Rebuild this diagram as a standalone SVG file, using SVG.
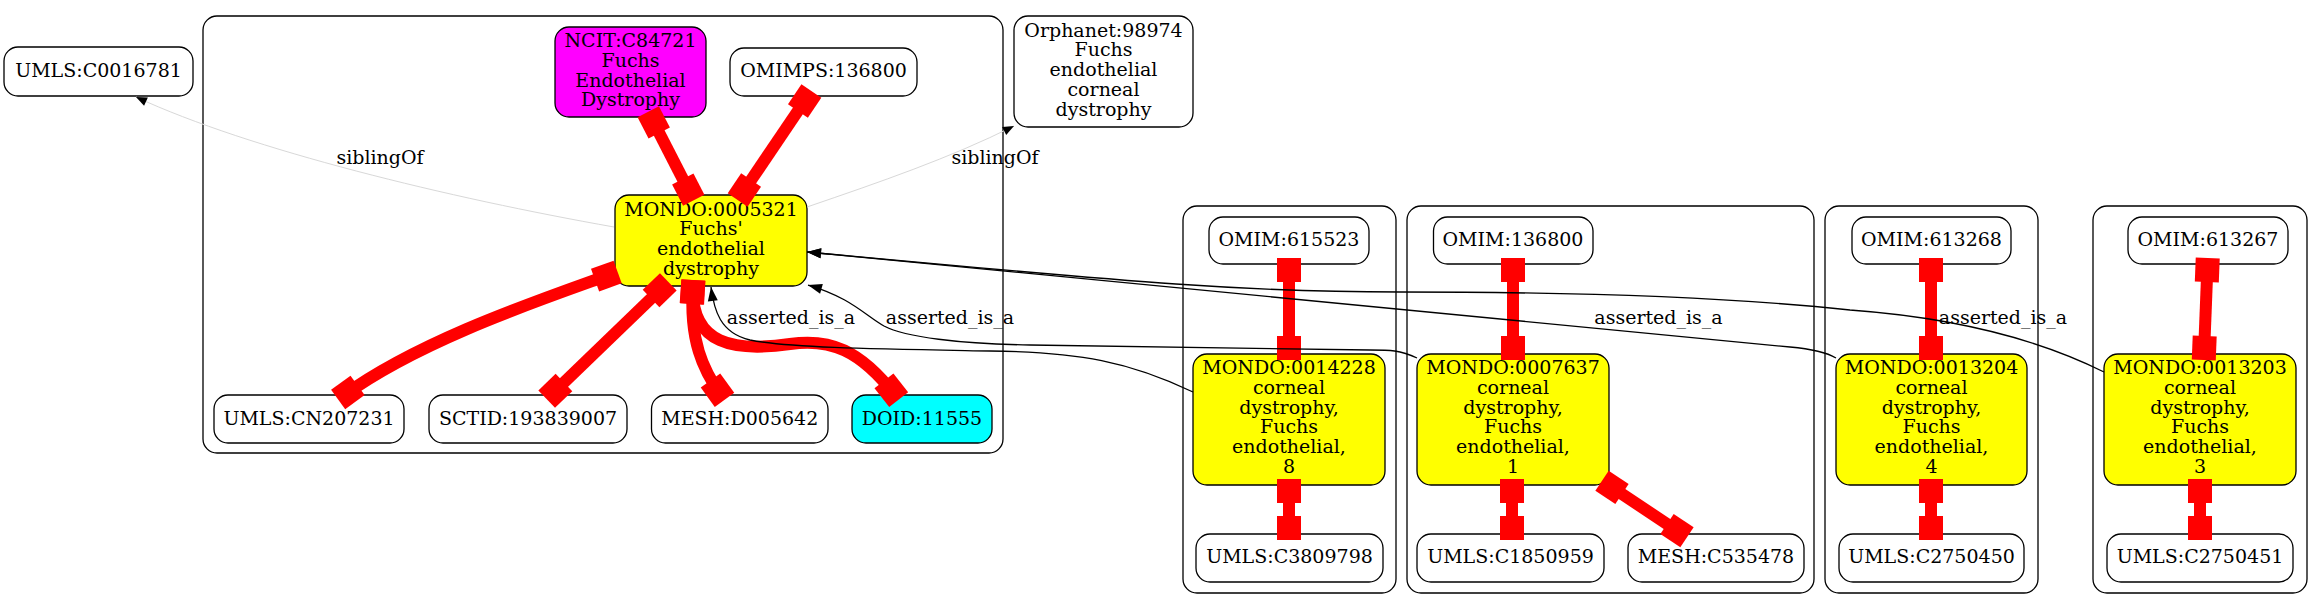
<svg xmlns="http://www.w3.org/2000/svg" width="2324" height="609" viewBox="0 0 2324 609">
<style>
.cl{fill:none;stroke:#000;stroke-width:1.3}
.n{fill:#fff;stroke:#000;stroke-width:1.3}
.y{fill:#ff0}
.m{fill:#f0f}
.c{fill:#0ff}
.t{font-family:"DejaVu Serif","Liberation Serif",serif;font-size:19px;text-anchor:middle;fill:#000}
.red{fill:none;stroke:#f00;stroke-width:12}
.isa{fill:none;stroke:#000;stroke-width:1.3}
.sib{fill:none;stroke:#d8d8d8;stroke-width:1}
</style>
<defs>
<marker id="tee" markerUnits="userSpaceOnUse" viewBox="-20 -14 28 28" markerWidth="28" markerHeight="28" refX="0" refY="0" orient="auto-start-reverse"><rect x="-18" y="-12" width="24" height="24" fill="#f00"/></marker>
<marker id="arr" markerUnits="userSpaceOnUse" viewBox="-16 -7 18 14" markerWidth="18" markerHeight="14" refX="0" refY="0" orient="auto"><path d="M0,0 L-14,-5 L-14,5 Z" fill="#000"/></marker>
<marker id="arrs" markerUnits="userSpaceOnUse" viewBox="-13 -6 15 12" markerWidth="15" markerHeight="12" refX="0" refY="0" orient="auto"><path d="M0,0 L-11,-4.5 L-11,4.5 Z" fill="#000"/></marker>
</defs>
<rect width="2324" height="609" fill="#fff"/>
<g id="clusters">
<rect class="cl" x="203" y="16" width="800" height="437" rx="14"/>
<rect class="cl" x="1183" y="206" width="213" height="387" rx="14"/>
<rect class="cl" x="1407" y="206" width="407" height="387" rx="14"/>
<rect class="cl" x="1825" y="206" width="213" height="387" rx="14"/>
<rect class="cl" x="2093" y="206" width="214" height="387" rx="14"/>
</g>
<g id="node-UMLS-C0016781"><rect class="n" x="4" y="47" width="189" height="49" rx="14"/><text class="t" x="98.5" y="77">UMLS:C0016781</text></g>
<g id="node-NCIT-C84721"><rect class="n m" x="555" y="27" width="151" height="90" rx="14"/><text class="t" x="630.5" y="47"><tspan x="630.5">NCIT:C84721</tspan><tspan x="630.5" dy="19.8">Fuchs</tspan><tspan x="630.5" dy="19.8">Endothelial</tspan><tspan x="630.5" dy="19.8">Dystrophy</tspan></text></g>
<g id="node-OMIMPS-136800"><rect class="n" x="730" y="48" width="187" height="48" rx="14"/><text class="t" x="823.5" y="77">OMIMPS:136800</text></g>
<g id="node-Orphanet-98974"><rect class="n" x="1014" y="16" width="179" height="111" rx="14"/><text class="t" x="1103.5" y="36.5"><tspan x="1103.5">Orphanet:98974</tspan><tspan x="1103.5" dy="19.8">Fuchs</tspan><tspan x="1103.5" dy="19.8">endothelial</tspan><tspan x="1103.5" dy="19.8">corneal</tspan><tspan x="1103.5" dy="19.8">dystrophy</tspan></text></g>
<g id="node-MONDO-0005321"><rect class="n y" x="615" y="195" width="192" height="91" rx="14"/><text class="t" x="711" y="215.5"><tspan x="711">MONDO:0005321</tspan><tspan x="711" dy="19.8">Fuchs'</tspan><tspan x="711" dy="19.8">endothelial</tspan><tspan x="711" dy="19.8">dystrophy</tspan></text></g>
<g id="node-UMLS-CN207231"><rect class="n" x="214" y="395" width="190" height="48" rx="14"/><text class="t" x="309" y="425">UMLS:CN207231</text></g>
<g id="node-SCTID-193839007"><rect class="n" x="429" y="395" width="198" height="48" rx="14"/><text class="t" x="528" y="425">SCTID:193839007</text></g>
<g id="node-MESH-D005642"><rect class="n" x="651.5" y="395" width="176.5" height="48" rx="14"/><text class="t" x="739.75" y="425">MESH:D005642</text></g>
<g id="node-DOID-11555"><rect class="n c" x="852" y="395" width="140" height="48" rx="14"/><text class="t" x="922" y="425">DOID:11555</text></g>
<g id="node-OMIM-615523"><rect class="n" x="1209" y="217" width="160" height="47" rx="14"/><text class="t" x="1289" y="246">OMIM:615523</text></g>
<g id="node-MONDO-0014228"><rect class="n y" x="1193" y="354" width="192" height="131" rx="14"/><text class="t" x="1289" y="374"><tspan x="1289">MONDO:0014228</tspan><tspan x="1289" dy="19.8">corneal</tspan><tspan x="1289" dy="19.8">dystrophy,</tspan><tspan x="1289" dy="19.8">Fuchs</tspan><tspan x="1289" dy="19.8">endothelial,</tspan><tspan x="1289" dy="19.8">8</tspan></text></g>
<g id="node-UMLS-C3809798"><rect class="n" x="1196" y="534" width="187" height="48" rx="14"/><text class="t" x="1289.5" y="563">UMLS:C3809798</text></g>
<g id="node-OMIM-136800"><rect class="n" x="1433.5" y="217" width="159.5" height="47" rx="14"/><text class="t" x="1513" y="246">OMIM:136800</text></g>
<g id="node-MONDO-0007637"><rect class="n y" x="1417" y="354" width="192" height="131" rx="14"/><text class="t" x="1513" y="374"><tspan x="1513">MONDO:0007637</tspan><tspan x="1513" dy="19.8">corneal</tspan><tspan x="1513" dy="19.8">dystrophy,</tspan><tspan x="1513" dy="19.8">Fuchs</tspan><tspan x="1513" dy="19.8">endothelial,</tspan><tspan x="1513" dy="19.8">1</tspan></text></g>
<g id="node-UMLS-C1850959"><rect class="n" x="1417" y="534" width="187" height="48" rx="14"/><text class="t" x="1510.5" y="563">UMLS:C1850959</text></g>
<g id="node-MESH-C535478"><rect class="n" x="1628" y="534" width="176" height="48" rx="14"/><text class="t" x="1716" y="563">MESH:C535478</text></g>
<g id="node-OMIM-613268"><rect class="n" x="1852" y="217" width="159" height="47" rx="14"/><text class="t" x="1931.5" y="246">OMIM:613268</text></g>
<g id="node-MONDO-0013204"><rect class="n y" x="1836" y="354" width="191" height="131" rx="14"/><text class="t" x="1931.5" y="374"><tspan x="1931.5">MONDO:0013204</tspan><tspan x="1931.5" dy="19.8">corneal</tspan><tspan x="1931.5" dy="19.8">dystrophy,</tspan><tspan x="1931.5" dy="19.8">Fuchs</tspan><tspan x="1931.5" dy="19.8">endothelial,</tspan><tspan x="1931.5" dy="19.8">4</tspan></text></g>
<g id="node-UMLS-C2750450"><rect class="n" x="1839" y="534" width="185" height="48" rx="14"/><text class="t" x="1931.5" y="563">UMLS:C2750450</text></g>
<g id="node-OMIM-613267"><rect class="n" x="2128" y="217" width="160" height="47" rx="14"/><text class="t" x="2208" y="246">OMIM:613267</text></g>
<g id="node-MONDO-0013203"><rect class="n y" x="2104" y="354" width="192" height="131" rx="14"/><text class="t" x="2200" y="374"><tspan x="2200">MONDO:0013203</tspan><tspan x="2200" dy="19.8">corneal</tspan><tspan x="2200" dy="19.8">dystrophy,</tspan><tspan x="2200" dy="19.8">Fuchs</tspan><tspan x="2200" dy="19.8">endothelial,</tspan><tspan x="2200" dy="19.8">3</tspan></text></g>
<g id="node-UMLS-C2750451"><rect class="n" x="2107" y="534" width="186" height="48" rx="14"/><text class="t" x="2200" y="563">UMLS:C2750451</text></g>
<g id="connectors">
<path class="sib" d="M614,227 C450,198 250,150 136,97" marker-end="url(#arrs)"/>
<path class="sib" d="M807,207 C880,182 950,158 1014,126" marker-end="url(#arrs)"/>
<path class="red" d="M651,117 L691,195" marker-start="url(#tee)" marker-end="url(#tee)"/>
<path class="red" d="M808,96 L741,195" marker-start="url(#tee)" marker-end="url(#tee)"/>
<path class="red" d="M612,274 C540,300 420,340 343,396" marker-start="url(#tee)" marker-end="url(#tee)"/>
<path class="red" d="M664,286 L551,395" marker-start="url(#tee)" marker-end="url(#tee)"/>
<path class="red" d="M693,286 C689,340 703,370 721,395" marker-start="url(#tee)" marker-end="url(#tee)"/>
<path class="red" d="M693,286 C690,345 735,352 790,344 C830,338 860,350 895,395" marker-start="url(#tee)" marker-end="url(#tee)"/>
<path class="red" d="M1289,264 L1289,354" marker-start="url(#tee)" marker-end="url(#tee)"/>
<path class="red" d="M1289,485 L1289,534" marker-start="url(#tee)" marker-end="url(#tee)"/>
<path class="red" d="M1513,264 L1513,354" marker-start="url(#tee)" marker-end="url(#tee)"/>
<path class="red" d="M1512,485 L1512,534" marker-start="url(#tee)" marker-end="url(#tee)"/>
<path class="red" d="M1607,484 L1682,534" marker-start="url(#tee)" marker-end="url(#tee)"/>
<path class="red" d="M1931,264 L1931,354" marker-start="url(#tee)" marker-end="url(#tee)"/>
<path class="red" d="M1931,485 L1931,534" marker-start="url(#tee)" marker-end="url(#tee)"/>
<path class="red" d="M2207.5,264 L2204,354" marker-start="url(#tee)" marker-end="url(#tee)"/>
<path class="red" d="M2200,485 L2200,534" marker-start="url(#tee)" marker-end="url(#tee)"/>
<path class="isa" d="M1193,392 C1130,362 1080,352 990,351 C880,349 790,348 750,340 C720,333 714,310 711,287" marker-end="url(#arr)"/>
<path class="isa" d="M1417,358 C1400,350 1390,350 1370,350 L1030,345 C960,344 905,337 884,326 C866,316 850,297 808,285" marker-end="url(#arr)"/>
<path class="isa" d="M1836,358 C1826,352 1812,349 1790,347 L807,252" marker-end="url(#arr)"/>
<path class="isa" d="M2104,372 C2040,340 1960,318 1850,310 C1720,296 1550,292 1400,292 C1250,292 1150,284 807,252" marker-end="url(#arr)"/>
<text class="t" x="380" y="164">siblingOf</text>
<text class="t" x="995" y="164">siblingOf</text>
<text class="t" x="791" y="324">asserted_is_a</text>
<text class="t" x="950" y="324">asserted_is_a</text>
<text class="t" x="1658.5" y="324">asserted_is_a</text>
<text class="t" x="2003" y="324">asserted_is_a</text>
</g>
</svg>
